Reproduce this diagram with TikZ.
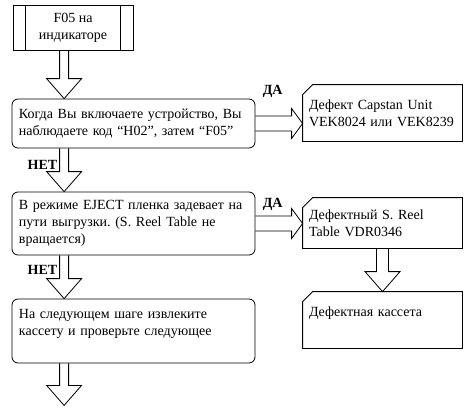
\documentclass[tikz,border=0pt]{standalone}
\usepackage{fontspec}
\setmainfont{Liberation Serif}
\usepackage{tikz}
\usetikzlibrary{calc}
\frenchspacing

\newcommand{\vblock}[3]{%
  \draw let \p1=(#1), \p2=(#2) in
    (\x1-#3,\y1) -- (\x1-#3,\y2+20pt) -- (\x1-17.5pt,\y2+20pt) -- (\x1,\y2)
    -- (\x1+17.5pt,\y2+20pt) -- (\x1+#3,\y2+20pt) -- (\x1+#3,\y1);}
\newcommand{\hblock}[2]{%
  \draw let \p1=(#1), \p2=(#2) in
    (\x1,\y1+7.5pt) -- (\x2-11pt,\y1+7.5pt) -- (\x2-11pt,\y1+15pt) -- (\x2,\y1)
    -- (\x2-11pt,\y1-15pt) -- (\x2-11pt,\y1-7.5pt) -- (\x1,\y1-7.5pt);}
\newcommand{\card}[1]{%
  \draw ([yshift=-10pt]#1.north west) -- ([xshift=10pt]#1.north west)
    -- (#1.north east) -- (#1.south east) -- (#1.south west) -- cycle;}

\begin{document}
\begin{tikzpicture}[x=1pt, y=-1pt, line width=0.8pt,
    font=\fontsize{14}{17}\selectfont,
    display/.style={draw, minimum width=120pt, minimum height=45pt, align=center, inner sep=0pt},
    decision/.style={draw, rounded corners=6pt, minimum width=243pt, text width=229pt, align=left, inner sep=0pt},
    result/.style={minimum width=159pt, text width=147pt, align=left, inner sep=0pt},
    answer/.style={font=\fontsize{14}{17}\selectfont\bfseries, inner sep=0pt}]

\useasboundingbox (0,0) rectangle (474,415);

\node[display] (ind) at (73,27.5) {F05 на\\индикаторе};
\draw ([xshift=13pt]ind.north west) -- ([xshift=13pt]ind.south west);
\draw ([xshift=-13pt]ind.north east) -- ([xshift=-13pt]ind.south east);

\node[decision, minimum height=49pt] (q1) at (133.5,123.5)
    {Когда Вы включаете устройство, Вы\\наблюдаете код “H02”, затем “F05”};
\node[decision, minimum height=63pt] (q2) at (133.5,223.5)
    {В режиме EJECT пленка задевает на\\пути выгрузки. (S. Reel Table не\\вращается)};
\node[decision, minimum height=64pt] (q3) at (133.5,331)
    {На следующем шаге извлеките\\кассету и проверьте следующее\\\mbox{}};

\node[result, minimum height=56pt] (r1) at (382.5,113)
    {Дефект Capstan Unit\\VEK8024 или VEK8239};
\node[result, minimum height=50pt] (r2) at (382.5,223)
    {Дефектный S. Reel\\Table VDR0346};
\node[result, minimum height=56pt] (r3) at (382.5,320)
    {Дефектная кассета\\\mbox{}};
\card{r1}
\card{r2}
\card{r3}

\vblock{[xshift=51.5pt]ind.south west}{[xshift=52.5pt]q1.north west}{4.5pt}
\vblock{[xshift=52.5pt]q1.south west}{[xshift=52.5pt]q2.north west}{4.5pt}
\vblock{[xshift=52.5pt]q2.south west}{[xshift=52.5pt]q3.north west}{4.5pt}
\coordinate (out) at ([xshift=52.5pt,yshift=-42pt]q3.south west);
\vblock{[xshift=52.5pt]q3.south west}{out}{4.5pt}
\vblock{r2.south}{r3.north}{6pt}

\hblock{q1.east}{q1.east -| r1.west}
\hblock{q2.east}{q2.east -| r2.west}

\node[answer, anchor=west] (yes1) at ([xshift=7pt,yshift=7pt]q1.north east) {ДА};
\node[answer, anchor=west] (yes2) at ([xshift=7pt,yshift=-13pt]q2.north east) {ДА};
\node[answer, anchor=east] (no1) at ([xshift=46pt,yshift=-17pt]q1.south west) {НЕТ};
\node[answer, anchor=east] (no2) at ([xshift=46pt,yshift=-15pt]q2.south west) {НЕТ};

\end{tikzpicture}
\end{document}
